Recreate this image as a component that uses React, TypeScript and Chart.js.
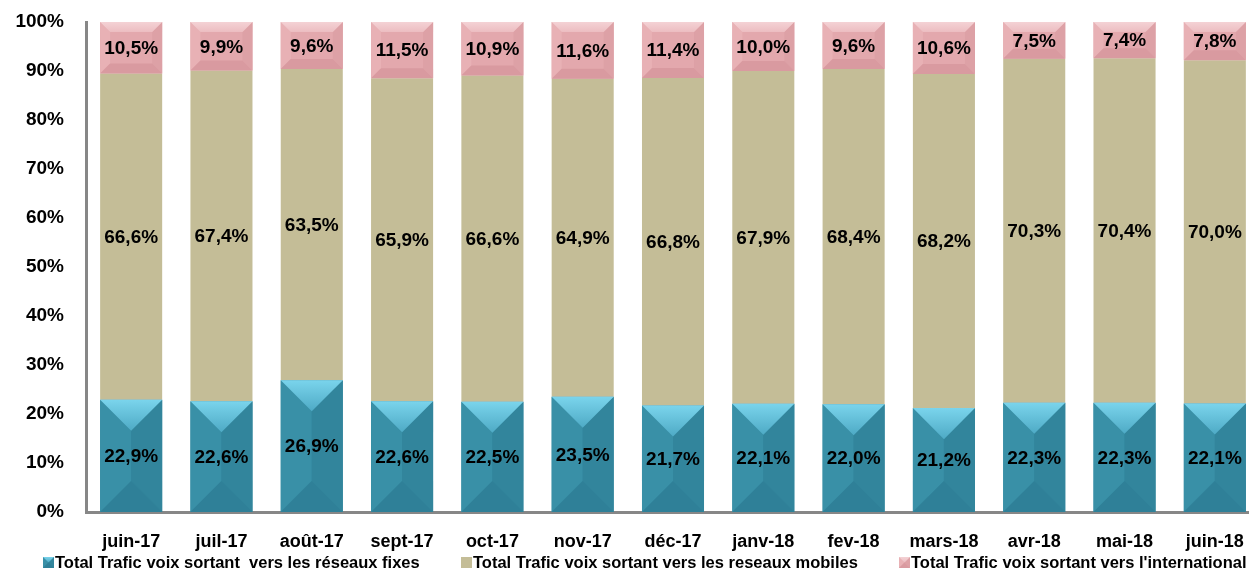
import React, { useEffect, useRef } from "react";
import { Chart, registerables } from "chart.js";

Chart.register(...registerables);

const categories = [
  "juin-17", "juil-17", "août-17", "sept-17", "oct-17", "nov-17", "déc-17",
  "janv-18", "fev-18", "mars-18", "avr-18", "mai-18", "juin-18",
];
const fixes = [22.9, 22.6, 26.9, 22.6, 22.5, 23.5, 21.7, 22.1, 22.0, 21.2, 22.3, 22.3, 22.1];
const mobiles = [66.6, 67.4, 63.5, 65.9, 66.6, 64.9, 66.8, 67.9, 68.4, 68.2, 70.3, 70.4, 70.0];
const international = [10.5, 9.9, 9.6, 11.5, 10.9, 11.6, 11.4, 10.0, 9.6, 10.6, 7.5, 7.4, 7.8];
const seriesNames = [
  "Total Trafic voix sortant  vers les réseaux fixes",
  "Total Trafic voix sortant vers les reseaux mobiles",
  "Total Trafic voix sortant vers l'international",
];

const FONT = "'Liberation Sans', Arial, sans-serif";
const W = 1262;
const H = 577;

const totals = categories.map((_, i) => fixes[i] + mobiles[i] + international[i]);
const pct = (arr: number[]) => arr.map((v, i) => (v / totals[i]) * 100);
const rawValues = [fixes, mobiles, international];

type Faces = {
  top1: string; top2: string; bottom: string; left: string; right: string; maxDepth: number;
} | null;
const palettes: Faces[] = [
  { top1: "#7ad4ec", top2: "#4eaac5", bottom: "#2f8098", left: "#3990a7", right: "#32859c", maxDepth: 999 },
  null,
  { top1: "#f4d2d5", top2: "#ecbdc1", bottom: "#d99aa0", left: "#e8b1b5", right: "#dda1a6", maxDepth: 10 },
];
const flatColors = ["#3589a0", "#c4bd97", "#e3a8ad"];

function drawBevel(ctx: CanvasRenderingContext2D, l: number, t: number, w: number, h: number, p: NonNullable<Faces>) {
  const d = Math.min(w / 2, h / 2, p.maxDepth);
  const r = l + w;
  const b = t + h;
  const face = (pts: number[][], color: string | CanvasGradient) => {
    ctx.beginPath();
    ctx.moveTo(pts[0][0], pts[0][1]);
    for (let k = 1; k < pts.length; k++) ctx.lineTo(pts[k][0], pts[k][1]);
    ctx.closePath();
    ctx.fillStyle = color;
    ctx.fill();
  };
  face([[l, t], [l + d, t + d], [l + d, b - d], [l, b]], p.left);
  face([[r, t], [r - d, t + d], [r - d, b - d], [r, b]], p.right);
  const g = ctx.createLinearGradient(0, t, 0, t + d);
  g.addColorStop(0, p.top1);
  g.addColorStop(1, p.top2);
  face([[l, t], [r, t], [r - d, t + d], [l + d, t + d]], g);
  face([[l, b], [r, b], [r - d, b - d], [l + d, b - d]], p.bottom);
}

const bevelPlugin = {
  id: "bevel",
  afterDatasetsDraw(chart: any) {
    const ctx = chart.ctx;
    ctx.save();
    chart.data.datasets.forEach((_: any, i: number) => {
      const p = palettes[i];
      if (!p) return;
      const meta = chart.getDatasetMeta(i);
      meta.data.forEach((el: any) => {
        const { x, y, base, width } = el.getProps(["x", "y", "base", "width"], true);
        drawBevel(ctx, x - width / 2, Math.min(y, base), width, Math.abs(base - y), p);
      });
    });
    ctx.restore();
  },
};

const labelPlugin = {
  id: "segLabels",
  afterDatasetsDraw(chart: any) {
    const ctx = chart.ctx;
    ctx.save();
    ctx.font = `bold 19px ${FONT}`;
    ctx.fillStyle = "#000";
    ctx.textAlign = "center";
    ctx.textBaseline = "middle";
    chart.data.datasets.forEach((_: any, i: number) => {
      const meta = chart.getDatasetMeta(i);
      meta.data.forEach((el: any, j: number) => {
        const { x, y, base } = el.getProps(["x", "y", "base"], true);
        const txt = rawValues[i][j].toFixed(1).replace(".", ",") + "%";
        ctx.fillText(txt, x, (y + base) / 2 + 1);
      });
    });
    ctx.restore();
  },
};

const legendX = [43, 461, 899];
const legendPlugin = {
  id: "customLegend",
  afterDraw(chart: any) {
    const ctx = chart.ctx;
    ctx.save();
    const yMid = 563;
    chart.data.datasets.forEach((ds: any, i: number) => {
      const bx = legendX[i];
      const p = palettes[i];
      ctx.fillStyle = flatColors[i];
      ctx.fillRect(bx, yMid - 6, 11, 11);
      if (p) drawBevel(ctx, bx, yMid - 6, 11, 11, { ...p, maxDepth: 5.5 });
      ctx.font = `bold 16.5px ${FONT}`;
      ctx.fillStyle = "#000";
      ctx.textAlign = "left";
      ctx.textBaseline = "middle";
      ctx.fillText(ds.label, bx + 12, yMid);
    });
    ctx.restore();
  },
};

export default function App() {
  const ref = useRef<HTMLCanvasElement | null>(null);

  useEffect(() => {
    if (!ref.current) return;
    const chart = new Chart(ref.current, {
      type: "bar",
      data: {
        labels: categories,
        datasets: [
          { label: seriesNames[0], data: pct(fixes), backgroundColor: flatColors[0], borderWidth: 0 },
          { label: seriesNames[1], data: pct(mobiles), backgroundColor: flatColors[1], borderWidth: 0 },
          { label: seriesNames[2], data: pct(international), backgroundColor: flatColors[2], borderWidth: 0 },
        ],
      },
      options: {
        responsive: false,
        animation: false,
        devicePixelRatio: 1,
        datasets: { bar: { categoryPercentage: 1, barPercentage: 0.687 } },
        layout: { padding: { top: 22, left: 0, right: 2, bottom: 0 } },
        plugins: { legend: { display: false }, tooltip: { enabled: false } },
        scales: {
          x: {
            stacked: true,
            grid: { display: false, drawTicks: false },
            border: { display: true, color: "#878787", width: 3 },
            ticks: {
              color: "#000",
              font: { family: FONT, size: 18, weight: "bold" },
              padding: 19,
              maxRotation: 0,
              autoSkip: false,
            },
            afterFit: (s: any) => {
              s.height = 65;
              s.paddingLeft = 0;
              s.paddingRight = 0;
            },
          },
          y: {
            stacked: true,
            min: 0,
            max: 100,
            grid: { display: false, drawTicks: false },
            border: { display: true, color: "#878787", width: 3 },
            ticks: {
              stepSize: 10,
              color: "#000",
              font: { family: FONT, size: 19, weight: "bold" },
              padding: 22,
              callback: (v: any) => `${v}%`,
            },
            afterFit: (s: any) => {
              s.width = 86;
              s.paddingTop = 0;
              s.paddingBottom = 0;
            },
          },
        },
      } as any,
      plugins: [bevelPlugin, labelPlugin, legendPlugin],
    });
    return () => chart.destroy();
  }, []);

  return (
    <div
      style={{
        position: "fixed",
        left: 0,
        top: 0,
        width: 1249,
        height: 577,
        overflow: "hidden",
        background: "#fff",
      }}
    >
      <canvas ref={ref} width={W} height={H} style={{ display: "block", width: W, height: H }} />
    </div>
  );
}
